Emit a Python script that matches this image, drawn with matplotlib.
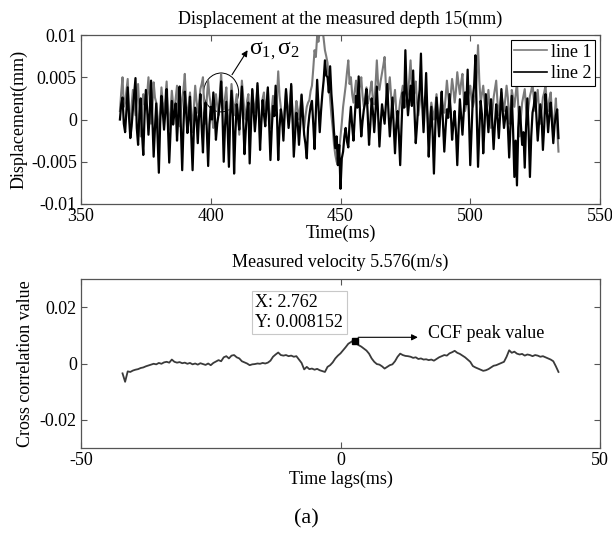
import numpy as np
import matplotlib
matplotlib.use('Agg')
import matplotlib.pyplot as plt
from matplotlib.patches import Ellipse

plt.rcParams['font.family'] = ['Liberation Serif', 'DejaVu Serif']
plt.rcParams['mathtext.fontset'] = 'custom'
plt.rcParams['mathtext.rm'] = 'Liberation Serif'
plt.rcParams['mathtext.it'] = 'Liberation Serif:italic'
plt.rcParams['axes.unicode_minus'] = False
plt.rcParams['font.size'] = 13

# =========================
# data
# =========================
depth_mm = 15
velocity = 5.576
t_start = 365  # ms, first sample
t_step = 0.5   # ms

# displacement, in 1e-3 mm (one row = 10 ms)
line1_disp = [
    1.0, 3.2, 5.0, 1.5, 2.0, 3.4, 4.8, 0.8, -1.0, 1.6, 3.5, 2.0, 0.5, 2.4, 4.2, 1.0, -2.0, 0.6, 3.0, 1.8,
    1.5, 3.0, 5.0, 2.2, -0.5, 1.4, 4.4, 2.6, 2.0, 0.4, -2.5, 0.9, 3.8, 2.0, 0.8, 2.5, 4.5, 1.2, -1.2, 1.0,
    3.4, 1.8, 1.0, 2.5, 4.0, 1.2, -0.8, 0.9, 2.6, 3.6, 5.4, 2.0, 0.0, 1.6, 3.2, 0.7, -1.5, 1.4, 4.0, 2.2,
    0.8, 2.0, 3.6, 4.2, 5.0, 1.0, -0.5, 2.6, 4.6, 2.8, 1.8, 0.2, -1.0, 1.4, 3.0, 1.6, 0.5, 2.8, 5.5, 2.4,
    1.2, 2.6, 3.8, 0.9, -2.0, 1.2, 4.2, 2.4, 0.5, 1.8, 3.0, 0.6, -1.8, 1.6, 4.6, 2.7, 1.0, 0.0, 2.2, 3.0,
    -1.5, 0.9, 3.5, 2.0, 0.8, 2.2, 4.0, 1.5, -2.4, 0.2, 2.5, 3.2, 1.0, 1.8, 3.6, 0.8, -1.0, 1.2, 2.8, 1.5,
    0.5, 2.6, 5.7, 2.8, 1.5, 0.2, -1.2, 1.0, 3.4, 1.8, 0.2, 2.0, 4.0, 0.5, -1.8, 0.4, 2.2, 1.2, 0.0, 1.6,
    3.0, 1.0, -1.0, 0.4, 1.5, 2.0, 2.3, 3.4, 4.0, 6.0, 8.2, 7.4, 9.9, 9.2, 10.5, 10.2, 10.8, 9.6, 8.2, 7.5,
    6.7, 4.4, 2.5, 0.5, -1.0, -3.0, -4.2, -5.0, -5.4, -3.6, -2.0, -0.4, 1.5, 2.8, 4.0, 5.6, 7.0, 4.2, 5.0, 3.0,
    2.0, 3.4, 4.6, 2.4, 3.2, 4.0, 5.0, 2.8, 1.5, 2.6, 3.8, 1.9, 2.5, 3.6, 4.5, 2.2, 1.8, 4.0, 7.0, 4.2,
    3.5, 4.6, 5.5, 6.4, 7.4, 4.0, 2.0, 3.6, 5.0, 2.8, 1.0, 2.2, 3.5, 1.0, -1.0, 0.8, 2.2, 3.0, 4.0, 2.5,
    1.5, 2.4, 3.0, 4.8, 7.0, 3.6, 2.5, 3.2, 4.5, 2.0, 0.5, 1.8, 3.8, 2.6, 1.2, 1.9, 2.5, 0.6, -1.5, 0.4,
    2.0, 1.0, 0.0, 1.4, 3.0, 1.0, -1.0, 0.6, 2.5, 1.5, 0.8, 2.6, 4.6, 2.9, 1.5, 3.0, 4.8, 3.6, 2.0, 3.4,
    5.6, 4.2, 3.0, 4.4, 5.4, 2.6, 1.0, 1.8, 2.5, 3.2, 4.0, 2.4, 1.5, 2.2, 3.0, 5.0, 8.8, 4.6, 2.0, 3.0,
    4.0, 2.2, 0.5, 1.6, 3.5, 1.4, -1.0, 0.8, 2.6, 3.6, 4.6, 2.0, 0.5, 1.8, 3.2, 2.0, 1.0, 2.4, 4.0, 2.6,
    -0.5, 1.2, 3.5, 2.6, 1.5, 3.0, 4.4, 1.6, -2.0, 0.2, 2.0, 2.8, 3.6, 1.4, 0.0, 1.6, 2.8, 3.4, 4.2, 2.5,
    1.0, 2.2, 3.5, 1.2, -0.5, 1.0, 2.6, 3.2, 4.0, 2.0, 1.0, 2.4, 3.2, 0.8, -2.0, 0.4, 2.5, -1.0, -3.8,
]
line2_disp = [
    0.0, 1.8, 2.6, -0.5, -1.5, 1.0, 3.8, 0.4, -2.2, -0.8, 1.2, 3.0, 4.9, -1.0, -3.0, 0.6, 2.5, -1.6, -4.2, 0.5,
    3.5, 1.2, -1.8, 0.8, 4.6, 0.2, -4.4, -1.0, 1.9, -2.0, -6.3, -0.5, 2.8, 1.0, -1.2, 0.9, 3.6, -0.8, -5.1, -1.5,
    2.2, -0.6, 0.8, 1.9, -2.5, 0.4, 3.9, -1.2, -6.0, -0.7, 3.3, 1.0, -1.6, 0.2, 2.7, -2.0, -6.0, -1.1, 1.4, 0.3,
    -2.8, 0.5, 3.0, -0.9, -3.9, 0.8, 2.0, -1.4, -5.5, -0.6, 1.5, 0.0, 3.2, 0.9, -2.4, -0.5, 0.6, 2.2, 4.5, 0.8,
    -5.0, -0.8, 2.1, -1.0, -5.6, 0.3, 3.4, 0.6, -6.4, -1.5, 1.8, 0.4, -1.2, 1.4, 3.9, -0.2, -4.1, -1.3, 0.9, 2.0,
    -5.2, -0.9, 3.6, 1.0, -1.4, 0.5, 4.3, 1.2, -3.6, -0.3, 2.3, 0.6, -0.8, 1.5, 3.8, -0.5, -4.8, -1.2, 1.6, 0.4,
    4.0, 0.7, -4.8, -1.0, 1.2, 0.0, -2.5, 0.9, 3.6, 1.1, -1.0, 0.6, 4.2, 0.3, -4.4, -1.8, 0.8, -0.4, -3.0, -0.6,
    2.9, 0.4, -1.8, -2.9, -4.6, -1.0, 0.5, 1.6, 2.2, -0.5, -3.5, 0.8, 4.7, 1.5, -1.5, 1.0, 3.0, 4.6, 7.0, 5.2,
    5.0, 3.2, 6.3, 3.0, 1.0, -1.5, -3.4, -2.0, -5.4, -3.0, -8.2, -4.6, -3.8, -2.0, -1.0, -2.6, -3.3, -0.4, 1.5, -0.8,
    -2.5, 0.3, 2.8, 1.4, 5.1, 0.8, -2.0, -0.2, 1.2, 2.0, 3.6, 0.5, -3.0, -0.6, 2.5, 0.9, -1.5, 1.0, 3.9, 0.6,
    -3.2, -0.4, 1.8, 0.6, -0.5, 1.9, 4.2, 0.8, -2.0, 0.2, 2.6, -0.8, -4.0, -0.7, 1.0, -1.8, -5.4, -0.9, 3.2, 1.4,
    8.2, 3.0, 0.5, 2.2, 4.0, 1.6, 5.8, 1.0, -2.8, -0.6, 2.0, 3.5, 7.8, 2.0, -1.5, 1.8, 5.5, 0.4, -4.4, -0.9,
    1.5, -1.6, -6.4, -1.2, 2.6, 0.3, -2.0, 0.8, 3.3, -0.5, -3.8, -1.0, 1.2, 0.2, 3.0, 0.9, -2.4, -0.6, 1.0, -1.5,
    -5.4, -1.2, 2.4, 0.3, -1.8, 0.9, 3.2, 1.8, 5.9, 0.0, -5.4, -1.4, 2.6, 4.0, 7.6, 0.5, -5.6, -1.2, 2.2, 0.6,
    -4.0, -0.8, 3.0, 0.7, -1.5, 0.9, 2.4, -0.4, -3.5, -0.6, 1.8, 0.2, -2.2, 0.5, 3.6, 1.0, -1.0, 0.2, 1.5, -0.9,
    -4.5, -1.0, 2.8, -1.2, -6.8, -2.5, -7.8, -1.0, 1.5, -0.6, -3.0, -1.5, -5.7, -0.8, 2.5, -1.4, -6.8, -2.0, 0.8, 1.6,
    3.2, 0.4, -2.5, -0.3, 1.8, 0.2, -3.6, -0.8, 3.0, 1.0, -1.5, 0.5, 2.0, -0.4, -2.8, -0.6, 0.5, 1.2, -2.2,
]

# cross correlation, in 1e-4, lags from -42 ms with 0.5 ms step
ccf_start = -42.0
ccf_step = 0.5
ccf_vals = [
    -35, -65, -28, -30, -25, -22, -20, -16, -14, -10,
    -7, -4, -1, -3, 2, -1, 4, 6, 3, 14,
    6, 3, 5, 1, 3, -1, 2, -3, 0, -4,
    1, -2, -5, 0, -6, 2, 7, 12, 8, 22,
    26, 18, 28, 30, 22, 18, 8, 4, 0, -6,
    -3, -2, 0, -1, 2, 0, 3, 10, 24, 32,
    39, 30, 28, 30, 26, 28, 24, 26, 14, 2,
    -21, -12, -20, -18, -22, -19, -24, -27, -30, -12,
    -6, 4, 18, 28, 36, 47, 58, 70, 76, 82,
    72, 65, 60, 53, 46, 35, 18, 6, -2, -4,
    -10, -18, -12, -6, -3, 8, 24, 35, 30, 27,
    26, 24, 20, 22, 16, 18, 14, 15, 12, 14,
    10, 16, 22, 26, 30, 28, 36, 40, 45, 38,
    34, 28, 22, 14, 6, -9, -14, -18, -22, -26,
    -24, -20, -14, -8, -6, -2, 2, 6, 24, 47,
    38, 42, 35, 32, 34, 28, 32, 30, 26, 30,
    28, 24, 26, 22, 18, 14, 8, -10, -30,
]
peak_lag = 2.762
peak_val = 0.008152

t1 = t_start + t_step * np.arange(len(line1_disp))
t2 = t_start + t_step * np.arange(len(line2_disp))
d1 = np.array(line1_disp) * 1e-3
d2 = np.array(line2_disp) * 1e-3
lags = ccf_start + ccf_step * np.arange(len(ccf_vals))
ccf = np.array(ccf_vals) * 1e-4

# =========================
# figure
# =========================
fig = plt.figure(figsize=(6.12, 5.34), dpi=100)
ax1 = fig.add_axes([81 / 612, 1 - 204 / 534, 519 / 612, 169 / 534])
ax2 = fig.add_axes([81 / 612, 1 - 448 / 534, 519 / 612, 169 / 534])

spine_col = '#555555'
for ax in (ax1, ax2):
    ax.tick_params(direction='in', top=True, right=True, length=4, width=0.8,
                   color=spine_col, pad=3, labelsize=13)
    for s in ax.spines.values():
        s.set_color(spine_col)
        s.set_linewidth(0.9)

# ---- top: displacement ----
ell = Ellipse((404, 0.0032), 13.5, 0.0046, fill=False, edgecolor='k', lw=0.7, zorder=1)
ax1.add_patch(ell)
ax1.plot(t1, d1, color='#7a7a7a', lw=1.5, label='line 1', zorder=2)
ax1.plot(t2, d2, color='black', lw=1.6, label='line 2', zorder=3)
ax1.set_xlim(350, 550)
ax1.set_ylim(-0.01, 0.01)
ax1.set_xticks([350, 400, 450, 500, 550])
ax1.set_yticks([-0.01, -0.005, 0, 0.005, 0.01])
ax1.set_yticklabels(['-0.01', '-0.005', '0', '0.005', '0.01'])
ax1.set_title('Displacement at the measured depth %d(mm)' % depth_mm, fontsize=13, pad=8)
ax1.set_xlabel('Time(ms)', fontsize=13)
ax1.set_ylabel('Displacement(mm)', fontsize=13)
ax1.xaxis.set_label_coords(0.5, -0.12)
ax1.yaxis.set_label_coords(-0.103, 0.5)
ax1.annotate('', xy=(414.2, 0.0082), xytext=(408.2, 0.0053),
             arrowprops=dict(arrowstyle='-|>', lw=0.8, color='k', mutation_scale=9,
                             shrinkA=0, shrinkB=0), zorder=5)
ax1.text(414.8, 0.0081, r'σ$_{1,}$σ$_{2}$', fontsize=17, va='center', ha='left', zorder=5)
leg = ax1.legend(loc='upper right', bbox_to_anchor=(0.990, 0.970), borderaxespad=0,
                 fancybox=False, edgecolor='k', framealpha=1, fontsize=13,
                 handlelength=1.8, handletextpad=0.2, labelspacing=0.25, borderpad=0.2)
leg.get_frame().set_linewidth(0.8)
for h in leg.get_lines():
    h.set_linewidth(1.2)

# ---- bottom: cross correlation ----
ax2.plot(lags, ccf, color='#3a3a3a', lw=1.3)
ax2.plot([peak_lag], [peak_val], marker='s', color='black', markersize=4.5, ls='none')
ax2.set_xlim(-50, 50)
ax2.set_ylim(-0.03, 0.03)
ax2.set_xticks([-50, 0, 50])
ax2.set_yticks([-0.02, 0, 0.02])
ax2.set_yticklabels(['-0.02', '0', '0.02'])
ax2.set_title('Measured velocity %.3f(m/s)' % velocity, fontsize=13, pad=9)
ax2.set_xlabel('Time lags(ms)', fontsize=13)
ax2.set_ylabel('Cross correlation value', fontsize=13)
ax2.xaxis.set_label_coords(0.5, -0.135)
ax2.yaxis.set_label_coords(-0.09, 0.5)
ax2.text(-16.4, 0.0181, 'X: %.3f\nY: %.6f' % (peak_lag, peak_val), fontsize=13,
         va='center', ha='left', linespacing=1.2,
         bbox=dict(boxstyle='square,pad=0.2', facecolor='white', edgecolor='#c8c8c8', lw=0.8))
ax2.annotate('', xy=(14.9, 0.0093), xytext=(3.4, 0.0093),
             arrowprops=dict(arrowstyle='-|>', lw=0.8, color='k', mutation_scale=9,
                             shrinkA=0, shrinkB=0))
ax2.text(16.9, 0.0106, 'CCF peak value', fontsize=13, va='center', ha='left')

fig.text(0.5, 1 - 519 / 534, '(a)', ha='center', va='center', fontsize=16)

fig.savefig('out.png', dpi=100)
